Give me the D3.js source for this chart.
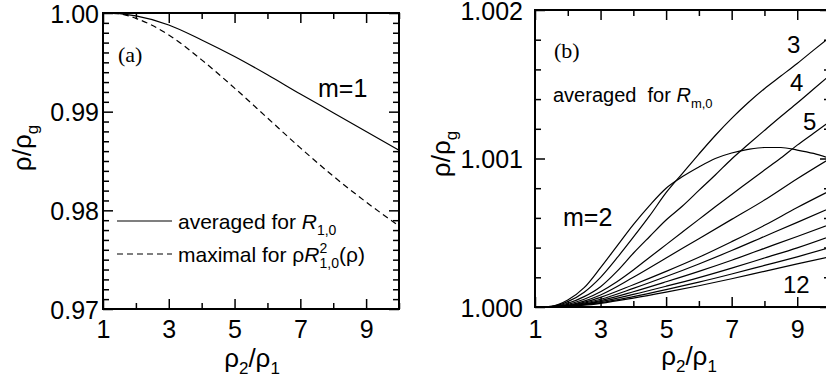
<!DOCTYPE html>
<html>
<head>
<meta charset="utf-8">
<script src="https://cdn.jsdelivr.net/npm/d3@7"></script>
<style>
  body { margin: 0; background: #fff; }
  svg { display: block; font-family: "Liberation Sans", Arial, sans-serif; }
</style>
</head>
<body>
<svg id="chart" width="826" height="384"></svg>
<script>
// panel (a), m = 1
const aX = [1, 1.5, 2, 3, 4, 5, 6, 7, 8, 9, 10];
const aAveraged = [1.0, 0.99993, 0.9997, 0.99879, 0.99727, 0.99559, 0.99374, 0.99179, 0.9899, 0.988, 0.98609];
const aMaximal = [1.0, 0.99992, 0.99946, 0.99778, 0.99525, 0.99239, 0.98936, 0.98633, 0.98347, 0.98084, 0.97842];
const aXTicks = [1, 3, 5, 7, 9];
const aYTicks = [0.97, 0.98, 0.99, 1.0];

// panel (b), values are (rho/rho_g - 1) in units of 1e-6
const bX = [1, 1.5, 2, 2.5, 3, 3.5, 4, 4.5, 5, 5.5, 6, 6.5, 7, 7.5, 8, 8.5, 9, 9.5, 10];
const bM2 = [0, 5, 47, 130, 265, 410, 555, 685, 800, 878, 943, 1000, 1037, 1061, 1074, 1074, 1057, 1034, 1000];
const bM3 = [0, 4, 36, 100, 200, 330, 470, 615, 770, 900, 1030, 1155, 1270, 1375, 1470, 1555, 1640, 1730, 1818];
const bM4 = [0, 3, 25, 70, 137, 240, 362, 475, 586, 680, 785, 889, 997, 1094, 1189, 1283, 1374, 1468, 1562];
const bM5 = [0, 2, 18, 52, 103, 170, 249, 335, 420, 505, 590, 675, 758, 840, 922, 1003, 1090, 1170, 1250];
const bXCoarse = [1, 1.5, 2, 2.5, 3, 4, 5, 6, 7, 8, 9, 10];
const bM6 = [0, 1, 12, 40, 81, 200, 330, 460, 590, 720, 864, 1000];
const bM7 = [0, 1, 10, 32, 65, 150, 240, 335, 440, 550, 670, 783];
const bM8 = [0, 1, 8, 26, 52, 125, 205, 290, 380, 475, 570, 666];
const bM9 = [0, 1, 7, 21, 43, 103, 170, 240, 315, 395, 475, 556];
const bM10 = [0, 1, 6, 18, 36, 85, 140, 198, 262, 330, 398, 475];
const bM11 = [0, 1, 5, 15, 29, 70, 117, 167, 222, 280, 338, 400];
const bM12 = [0, 1, 4, 12, 25, 60, 100, 143, 190, 240, 290, 338];
const bXTicks = [1, 3, 5, 7, 9];
const bYTicks = [1.0, 1.001, 1.002];

const svg = d3.select("#chart");

function frame(x, y, opt) {
    const [x0, x1] = x.range();
    const [y0, y1] = y.range();
    const g = svg.append("g");
    const minorX = d3.range(1, 11).filter(v => !opt.xTicks.includes(v));
    const minorY = opt.yMinor.filter(v => !opt.yTicks.some(t => Math.abs(t - v) < 1e-9));

    const put = (axis, tx, ty) => {
        const a = g.append("g").attr("transform", `translate(${tx},${ty})`).call(axis);
        a.select(".domain").remove();
        a.selectAll("line").attr("stroke", "#000").attr("stroke-width", 1.5);
        return a;
    };
    // bottom / left with labels
    put(d3.axisBottom(x).tickValues(minorX).tickSize(-6).tickFormat(""), 0, y0);
    const bx = put(d3.axisBottom(x).tickValues(opt.xTicks).tickSize(-10).tickPadding(opt.xPad).tickFormat(d3.format("d")), 0, y0);
    put(d3.axisLeft(y).tickValues(minorY).tickSize(-6).tickFormat(""), x0, 0);
    const ly = put(d3.axisLeft(y).tickValues(opt.yTicks).tickSize(-10).tickPadding(opt.yPad).tickFormat(opt.yFormat), x0, 0);
    // mirrored top / right
    put(d3.axisTop(x).tickValues(minorX).tickSize(-6).tickFormat(""), 0, y1);
    put(d3.axisTop(x).tickValues(opt.xTicks).tickSize(-10).tickFormat(""), 0, y1);
    put(d3.axisRight(y).tickValues(minorY).tickSize(-6).tickFormat(""), x1, 0);
    put(d3.axisRight(y).tickValues(opt.yTicks).tickSize(-10).tickFormat(""), x1, 0);

    [bx, ly].forEach(a => a.attr("font-family", null).attr("font-size", null)
        .selectAll("text").attr("fill", "#000").style("font-size", opt.tickFont + "px"));
    ly.selectAll("text").attr("dy", "0.37em");

    g.append("rect")
        .attr("x", x0).attr("y", y1)
        .attr("width", x1 - x0).attr("height", y0 - y1)
        .attr("fill", "none").attr("stroke", "#000").attr("stroke-width", 2);
}

function rhoLabel(tx, ty, rot, sub1, sub2) {
    const t = svg.append("text")
        .attr("transform", `translate(${tx},${ty}) rotate(${rot})`)
        .attr("text-anchor", "middle")
        .style("font-size", "26px");
    t.append("tspan").text("ρ");
    if (sub1) t.append("tspan").attr("dy", 7).style("font-size", "17px").text(sub1);
    t.append("tspan").attr("dy", sub1 ? -7 : 0).text("/ρ");
    t.append("tspan").attr("dy", 7).style("font-size", "17px").text(sub2);
}

// ---------- panel (a)
const xa = d3.scaleLinear().domain([1, 10]).range([103, 399]);
const ya = d3.scaleLinear().domain([0.97, 1.0]).range([309, 13]);

frame(xa, ya, {
    xTicks: aXTicks, yTicks: aYTicks,
    yMinor: d3.range(0, 31).map(i => 0.97 + i * 0.001),
    xPad: 11, yPad: 4, tickFont: 25, yFormat: d3.format(".2f")
});

const lineA = d3.line().x(d => xa(d[0])).y(d => ya(d[1])).curve(d3.curveMonotoneX);
svg.append("path").datum(aX.map((v, i) => [v, aAveraged[i]]))
    .attr("d", lineA).attr("fill", "none").attr("stroke", "#000").attr("stroke-width", 1.2);
svg.append("path").datum(aX.map((v, i) => [v, aMaximal[i]]))
    .attr("d", lineA).attr("fill", "none").attr("stroke", "#000").attr("stroke-width", 1.2)
    .attr("stroke-dasharray", "6,4");

svg.append("text").attr("x", 118).attr("y", 62)
    .style("font-family", "'Liberation Serif', 'Times New Roman', serif").style("font-size", "22px").text("(a)");
svg.append("text").attr("x", 318).attr("y", 97).style("font-size", "25px").text("m=1");

// legend
svg.append("line").attr("x1", 117).attr("x2", 172).attr("y1", 221).attr("y2", 221)
    .attr("stroke", "#000").attr("stroke-width", 1.2);
svg.append("line").attr("x1", 117).attr("x2", 172).attr("y1", 254).attr("y2", 254)
    .attr("stroke", "#000").attr("stroke-width", 1.2).attr("stroke-dasharray", "6,4");

const lg1 = svg.append("text").attr("x", 178).attr("y", 229).style("font-size", "21px");
lg1.append("tspan").text("averaged for ");
lg1.append("tspan").style("font-style", "italic").text("R");
lg1.append("tspan").attr("dy", 6).style("font-size", "14px").text("1,0");

const lg2 = svg.append("text").attr("x", 178).attr("y", 262).style("font-size", "21px");
lg2.append("tspan").text("maximal for ρ");
lg2.append("tspan").style("font-style", "italic").text("R");
lg2.append("tspan").attr("dy", -9).style("font-size", "14px").text("2");
lg2.append("tspan").attr("dx", -7.8).attr("dy", 15).style("font-size", "14px").text("1,0");
lg2.append("tspan").attr("dy", -6).text("(ρ)");

rhoLabel(31, 148, -90, null, "g");
rhoLabel(252, 367, 0, "2", "1");

// ---------- panel (b)
const xb = d3.scaleLinear().domain([1, 10]).range([535, 830]);
const yb = d3.scaleLinear().domain([1.0, 1.002]).range([307, 10]);

frame(xb, yb, {
    xTicks: bXTicks, yTicks: bYTicks,
    yMinor: d3.range(0, 11).map(i => 1.0 + i * 0.0002),
    xPad: 13, yPad: 12, tickFont: 25, yFormat: d3.format(".3f")
});

const lineB = d3.line().x(d => xb(d[0])).y(d => yb(1 + d[1] * 1e-6)).curve(d3.curveMonotoneX);
const bSeries = [
    [bX, bM2], [bX, bM3], [bX, bM4], [bX, bM5],
    [bXCoarse, bM6], [bXCoarse, bM7], [bXCoarse, bM8], [bXCoarse, bM9],
    [bXCoarse, bM10], [bXCoarse, bM11], [bXCoarse, bM12]
];
svg.append("g").selectAll("path")
    .data(bSeries.map(([xs, ys]) => xs.map((v, i) => [v, ys[i]])))
    .join("path")
    .attr("d", lineB).attr("fill", "none").attr("stroke", "#000").attr("stroke-width", 1.2);

svg.append("text").attr("x", 554).attr("y", 58)
    .style("font-family", "'Liberation Serif', 'Times New Roman', serif").style("font-size", "22px").text("(b)");

const ab = svg.append("text").attr("x", 553).attr("y", 102).style("font-size", "20px").style("white-space", "pre");
ab.append("tspan").text("averaged  for ");
ab.append("tspan").style("font-style", "italic").text("R");
ab.append("tspan").attr("dy", 6).style("font-size", "13px").text("m,0");

svg.append("text").attr("x", 563).attr("y", 226).style("font-size", "25px").text("m=2");
const curveLabels = [["3", 787, 53], ["4", 790, 91], ["5", 803, 130], ["12", 783, 293]];
svg.append("g").selectAll("text").data(curveLabels).join("text")
    .attr("x", d => d[1]).attr("y", d => d[2]).style("font-size", "24px").text(d => d[0]);

rhoLabel(450, 154, -90, null, "g");
rhoLabel(689, 365, 0, "2", "1");
</script>
</body>
</html>
